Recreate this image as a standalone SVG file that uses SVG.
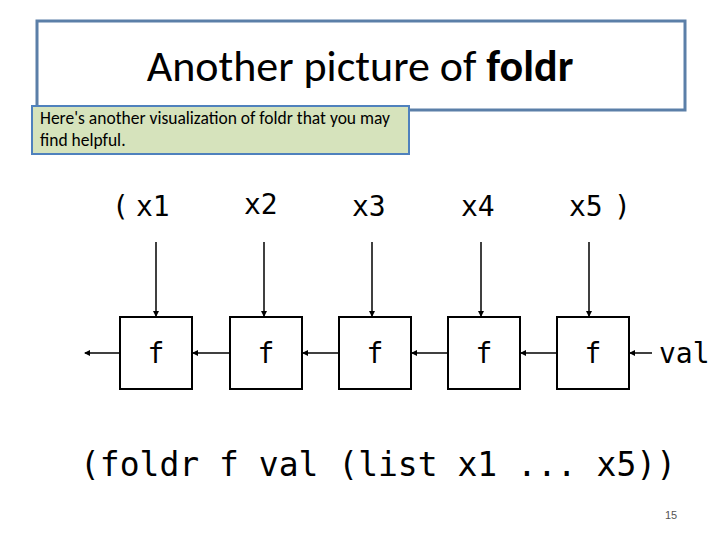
<svg xmlns="http://www.w3.org/2000/svg" width="720" height="540" viewBox="0 0 720 540">
<style>
.m{font-family:"DejaVu Sans Mono",monospace;fill:#000}
.b{fill:#fff;stroke:#000;stroke-width:2}
.c line{stroke:#000;stroke-width:1.5;marker-end:url(#a)}
</style>
<defs><marker id="a" markerWidth="6" markerHeight="6" refX="5" refY="3" orient="auto" markerUnits="userSpaceOnUse"><path d="M0,0L6,3L0,6z" fill="#000"/></marker></defs>
<rect width="720" height="540" fill="#fff"/>
<g id="title"><rect x="37" y="21" width="648" height="89" fill="#fff" stroke="#5b7fa8" stroke-width="3"/>
<text x="360" y="81" text-anchor="middle" font-family="Carlito,'Liberation Sans',sans-serif" font-size="44">Another picture of <tspan font-weight="bold">foldr</tspan></text></g>
<g id="note"><rect x="32" y="106" width="377" height="48" fill="#d6e3bc" stroke="#4f81bd" stroke-width="2"/>
<text font-family="Carlito,'Liberation Sans',sans-serif" font-size="17.5"><tspan x="40" y="124">Here's another visualization of foldr that you may</tspan><tspan x="40" y="146">find helpful.</tspan></text></g>
<g id="labels" class="m" font-size="28">
<text x="112" y="216">(</text><text x="136" y="216">x1</text>
<text x="244" y="214">x2</text><text x="352" y="216">x3</text><text x="461" y="216">x4</text>
<text x="569" y="216">x5</text><text x="614" y="216">)</text>
<text x="659" y="363">val</text></g>
<g id="f1"><rect class="b" x="120" y="317" width="72" height="72"/><text class="m" x="156" y="363" font-size="28" text-anchor="middle">f</text></g>
<g id="f2"><rect class="b" x="230" y="317" width="72" height="72"/><text class="m" x="266" y="363" font-size="28" text-anchor="middle">f</text></g>
<g id="f3"><rect class="b" x="339" y="317" width="72" height="72"/><text class="m" x="375" y="363" font-size="28" text-anchor="middle">f</text></g>
<g id="f4"><rect class="b" x="448" y="317" width="72" height="72"/><text class="m" x="484" y="363" font-size="28" text-anchor="middle">f</text></g>
<g id="f5"><rect class="b" x="557" y="317" width="72" height="72"/><text class="m" x="593" y="363" font-size="28" text-anchor="middle">f</text></g>
<g class="c" id="connectors">
<line x1="156" y1="242" x2="156" y2="316"/><line x1="264" y1="242" x2="264" y2="316"/>
<line x1="372" y1="242" x2="372" y2="316"/><line x1="481" y1="242" x2="481" y2="316"/>
<line x1="589" y1="242" x2="589" y2="316"/>
<line x1="120" y1="353" x2="85" y2="353"/><line x1="230" y1="353" x2="193" y2="353"/>
<line x1="339" y1="353" x2="303" y2="353"/><line x1="448" y1="353" x2="412" y2="353"/>
<line x1="557" y1="353" x2="521" y2="353"/><line x1="652" y1="353" x2="630" y2="353"/>
</g>
<text class="m" x="378" y="476" font-size="33" text-anchor="middle">(foldr f val (list x1 ... x5))</text>
<text x="671" y="519" font-family="'Liberation Sans',sans-serif" font-size="11" text-anchor="middle" fill="#555">15</text>
</svg>
